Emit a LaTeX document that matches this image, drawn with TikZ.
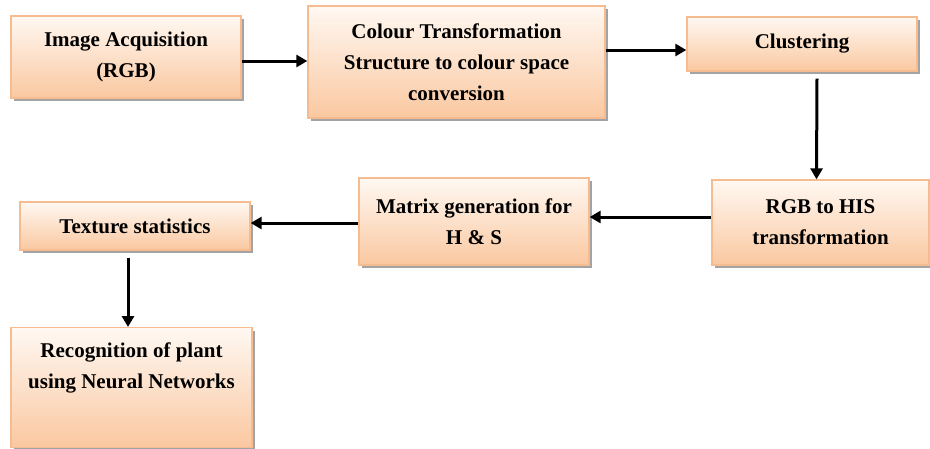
\documentclass[tikz,border=0pt]{standalone}
\usepackage{fontspec}
\setmainfont{Liberation Serif}
\usetikzlibrary{shadows,arrows.meta}
\definecolor{boxtop}{RGB}{255,248,242}
\definecolor{boxbot}{RGB}{250,200,160}
\definecolor{boxline}{RGB}{246,188,145}
\tikzset{
  stepbox/.style={draw=boxline, line width=1.3pt, top color=boxtop, bottom color=boxbot,
    drop shadow={shadow xshift=3pt, shadow yshift=-3pt, fill=black!40, opacity=0.9},
    align=center, inner sep=2pt,
    font=\fontsize{21}{31}\selectfont\bfseries},
  arr/.style={line width=3pt, -{Triangle[length=11pt,width=12pt]}}
}
\begin{document}
\begin{tikzpicture}[x=1pt,y=1pt]
\useasboundingbox (0,0) rectangle (930,-448);
\node[stepbox, minimum width=230pt, minimum height=82pt] (b1) at (126,-57) {Image Acquisition\\(RGB)};
\node[stepbox, minimum width=297pt, minimum height=112pt] (b2) at (456.5,-62) {Colour Transformation\\Structure to colour space\\conversion};
\node[stepbox, minimum width=230pt, minimum height=54pt] (b3) at (802,-44) {Clustering};
\node[stepbox, minimum width=217pt, minimum height=85pt] (b4) at (820.5,-222.5) {RGB to HIS\\transformation};
\node[stepbox, minimum width=230pt, minimum height=87pt] (b5) at (474,-221.5) {Matrix generation for\\H \& S};
\node[stepbox, minimum width=230pt, minimum height=48pt] (b6) at (135,-226) {Texture statistics};
\node[stepbox, inner sep=0pt, anchor=north] (b7) at (131.5,-327) {\parbox[c][120pt][t]{241pt}{\centering\vspace*{15pt}Recognition of plant\\using Neural Networks}};
\draw[arr] ([yshift=-4pt]b1.east) -- ([yshift=1pt]b2.west);
\draw[arr] ([yshift=12pt]b2.east) -- ([yshift=-6pt]b3.west);
\draw[arr] ([xshift=15pt,yshift=-7pt]b3.south) -- ([xshift=-4pt]b4.north);
\draw[arr] ([yshift=5.5pt]b4.west) -- ([yshift=4.5pt]b5.east);
\draw[arr] ([yshift=-1.5pt]b5.west) -- ([yshift=3pt]b6.east);
\draw[arr] ([xshift=-7pt,yshift=-7pt]b6.south) -- ([xshift=-3.5pt]b7.north);
\end{tikzpicture}
\end{document}
